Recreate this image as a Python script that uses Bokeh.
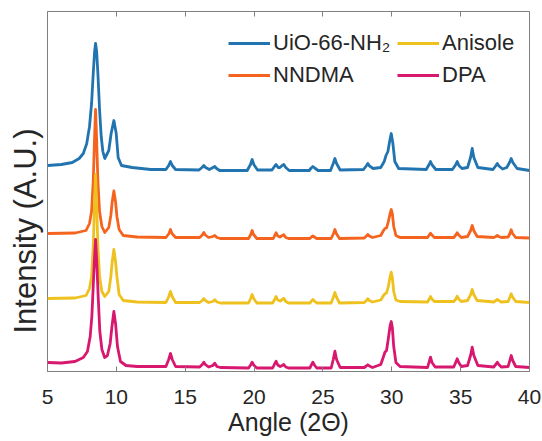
from bokeh.plotting import figure
from bokeh.models import Range1d, LinearAxis, Legend, LegendItem, Title, FixedTicker
from bokeh.embed import file_html
from bokeh.resources import INLINE

# ---------------- data (stacked traces) ----------------
series_names = ["UiO-66-NH\u2082", "NNDMA", "Anisole", "DPA"]
series_colors = ["#2174b0", "#f5641e", "#eec11f", "#d8176f"]
x_ticks = [5, 10, 15, 20, 25, 30, 35, 40]

uio_angle = [5.0, 6.0, 6.8, 7.3, 7.6, 7.85, 8.05, 8.2, 8.33, 8.42, 8.49, 8.57, 8.67, 8.78, 8.9,
             9.02, 9.16, 9.45, 9.62,
             9.82, 9.99, 10.13, 10.37, 11.15, 12.5, 13.6, 13.8, 13.93, 14.06, 14.3, 16.0, 16.22,
             16.35, 16.48, 16.75, 17.02, 17.15, 17.28, 17.5, 19.5, 19.74, 19.86, 19.98, 20.25,
             21.3, 21.48, 21.6, 21.75, 21.88, 22.04, 22.16, 22.3, 22.55, 24.0, 24.15, 24.27, 24.4,
             24.65, 25.55, 25.75, 25.87, 25.99, 26.25, 27.95, 28.14, 28.26, 28.38, 28.65, 29.2,
             29.45, 29.58, 29.72, 29.84, 29.96, 30.08, 30.22, 30.5, 32.5, 32.69, 32.81, 32.93,
             33.2, 34.4, 34.63, 34.75, 34.87, 35.1, 35.5, 35.72, 35.84, 35.96, 36.25, 37.35,
             37.54, 37.66, 37.78, 38.05, 38.35, 38.55, 38.67, 38.79, 39.1, 40.0]
uio_int = [206, 207, 209, 213, 218, 228, 245, 268, 300, 320, 328, 320, 295, 262, 235,
           220, 213, 221, 238,
           251, 238, 214, 206, 204, 202, 202, 206, 210, 206, 202, 201.5, 204,
           206, 204, 202, 204, 205, 203, 201, 201, 207, 212, 207, 201.5,
           201.5, 205, 207, 204, 204, 206, 207, 204, 201, 201, 203.5, 205, 203.5,
           201, 201, 208, 213, 208, 201.5, 202, 205.5, 208, 205.5, 203, 204,
           210, 216, 220, 230, 238, 228, 210, 203, 202, 206.5, 210, 206.5,
           202, 202, 206.5, 210, 206, 203, 204, 214, 223, 214, 204, 202,
           205.5, 208, 205.5, 202.5, 204, 209, 213, 209, 203, 201]

nndma_angle = [5.0, 7.0, 7.8, 8.05, 8.2, 8.32, 8.42, 8.49, 8.56, 8.66, 8.78, 8.95, 9.16, 9.45, 9.6,
               9.7, 9.82, 9.94, 10.04, 10.2, 10.5, 11.5, 13.6, 13.82, 13.93, 14.04, 14.3, 16.05,
               16.24, 16.35, 16.46, 16.7, 17.0, 17.15, 17.3, 17.55, 19.6, 19.76, 19.86, 19.96,
               20.2, 21.4, 21.5, 21.6, 21.72, 21.88, 22.05, 22.16, 22.3, 22.5, 24.05, 24.17,
               24.27, 24.38, 24.55, 25.6, 25.77, 25.87, 25.97, 26.2, 28.0, 28.16, 28.26, 28.37,
               28.6, 29.2, 29.4, 29.5, 29.62, 29.75, 29.88, 29.96, 30.04, 30.14, 30.3, 30.6,
               32.6, 32.72, 32.81, 32.91, 33.1, 34.5, 34.65, 34.75, 34.86, 35.05, 35.5, 35.73,
               35.84, 35.95, 36.2, 37.4, 37.56, 37.66, 37.77, 37.95, 38.45, 38.58, 38.67, 38.77,
               39.0, 40.0]
nndma_int = [138, 138.5, 141, 148, 160, 190, 235, 262, 235, 190, 160, 145, 139, 144, 156,
             170, 180.5, 170, 155, 142, 136, 134.5, 134, 138, 142, 138, 134, 134,
             136.5, 139, 136.5, 134, 135, 136, 134, 133, 133, 137, 141, 137,
             133, 133, 136, 138.7, 135.5, 134.5, 136, 136.7, 134, 133, 133, 134.5,
             135.5, 134.5, 133, 133, 138, 142, 138, 133, 133.5, 135.5, 137, 135.5,
             134, 136, 141, 143, 143.5, 150, 158, 162, 158, 145, 136, 134,
             134, 136.5, 138.3, 136.5, 134, 134, 136.5, 138.7, 136.5, 134, 135, 141,
             146, 141, 135, 134, 135, 136, 135, 134, 134.5, 138, 141.7, 138,
             134, 133.5]

anisole_angle = [5.0, 7.0, 7.8, 8.05, 8.2, 8.32, 8.42, 8.49, 8.56, 8.66, 8.78, 8.95, 9.16, 9.45,
                 9.6, 9.7, 9.82, 9.94, 10.04, 10.2, 10.5, 11.5, 13.6, 13.81, 13.93, 14.05, 14.3,
                 16.05, 16.24, 16.35, 16.46, 16.7, 17.0, 17.15, 17.3, 17.55, 19.6, 19.75, 19.86,
                 19.97, 20.2, 21.35, 21.49, 21.6, 21.72, 21.9, 22.05, 22.16, 22.3, 22.5, 24.05,
                 24.17, 24.27, 24.38, 24.55, 25.6, 25.76, 25.87, 25.98, 26.2, 28.0, 28.16, 28.26,
                 28.37, 28.6, 29.2, 29.4, 29.5, 29.62, 29.75, 29.88, 29.96, 30.04, 30.14, 30.3,
                 30.6, 32.6, 32.72, 32.81, 32.91, 33.1, 34.5, 34.65, 34.75, 34.86, 35.05, 35.5,
                 35.73, 35.84, 35.95, 36.2, 37.4, 37.56, 37.66, 37.77, 37.95, 38.45, 38.58, 38.67,
                 38.77, 39.0, 40.0]
anisole_int = [73, 73.5, 76, 83, 95, 125, 170, 197, 170, 125, 95, 80, 75, 80,
               95, 110, 122, 110, 95, 77, 71, 69.5, 69, 75, 80, 75, 69,
               69, 71, 73, 71, 69, 70, 71.7, 69.5, 68.5, 68.5, 73, 77,
               73, 68.5, 68.5, 72, 75, 71.5, 70.5, 72, 73.3, 70, 68.5, 68.5,
               70.5, 72, 70.5, 68.5, 68.5, 74.5, 79, 74.5, 68.5, 69, 71, 72.7,
               71, 69.5, 71.5, 76, 77.7, 78.5, 85, 95, 99.3, 94, 80, 71.5,
               70, 69.5, 72.5, 75, 72.5, 70, 70, 72.5, 75.3, 72.5, 70, 71,
               77, 82, 77, 71, 69.5, 71, 72, 71, 69.5, 70, 74.5, 77.7,
               74.5, 70, 69]

dpa_angle = [5.0, 6.0, 7.0, 7.6, 7.9, 8.1, 8.22, 8.32, 8.42, 8.49, 8.57, 8.68, 8.8, 8.95, 9.15,
             9.35, 9.55, 9.68, 9.82, 9.95, 10.08, 10.3, 10.7, 11.5, 13.6, 13.8, 13.93, 14.06,
             14.3, 16.05, 16.24, 16.35, 16.46, 16.7, 17.0, 17.15, 17.3, 17.55, 19.6, 19.75,
             19.86, 19.97, 20.2, 21.35, 21.49, 21.6, 21.72, 21.9, 22.05, 22.16, 22.3, 22.5,
             24.05, 24.16, 24.27, 24.38, 24.55, 25.6, 25.75, 25.87, 25.99, 26.25, 28.0, 28.15,
             28.26, 28.37, 28.6, 29.2, 29.4, 29.5, 29.62, 29.75, 29.88, 29.96, 30.04, 30.14,
             30.3, 30.6, 32.6, 32.7, 32.81, 32.92, 33.15, 34.5, 34.64, 34.75, 34.86, 35.05,
             35.5, 35.72, 35.84, 35.96, 36.25, 37.4, 37.55, 37.66, 37.77, 37.95, 38.45, 38.57,
             38.67, 38.78, 39.0, 40.0]
dpa_int = [9, 8.5, 10, 14, 20, 35, 55, 85, 115, 132, 112, 75, 40, 22, 14,
           16, 28, 45, 60, 47, 25, 10, 6, 5, 5, 12, 18, 12,
           5, 4.5, 7, 9.3, 7, 4.5, 6, 8.3, 5, 4, 3.5, 6.5,
           9.3, 6.5, 3.5, 3.5, 7.5, 10.3, 6.5, 5, 6, 7, 4.5, 3.5,
           3.5, 6.5, 9.3, 6.5, 3.5, 3.5, 12, 20.3, 12, 4, 4, 5.5,
           6.7, 5.5, 4, 7, 15, 19.3, 21, 33, 46, 50, 44, 25,
           9, 5, 4, 9, 14.3, 9, 4.5, 4.5, 9, 12.7, 9, 5,
           6, 16, 24.3, 16, 6, 4.5, 7, 9.3, 7, 4.5, 5, 11,
           16, 11, 5, 4]

series_angles = [uio_angle, nndma_angle, anisole_angle, dpa_angle]
series_values = [uio_int, nndma_int, anisole_int, dpa_int]

# ---------------- figure ----------------
FONT = "Liberation Sans"
TXT = "#262626"
AX = "#808080"

p = figure(frame_width=482, frame_height=360,
           min_border_left=47, min_border_right=13, min_border_top=11, min_border_bottom=70,
           x_range=Range1d(5, 40), y_range=Range1d(0, 360),
           output_backend="svg", toolbar_location=None, tools="")
p.background_fill_color = "white"
p.border_fill_color = "white"
p.grid.visible = False
p.outline_line_color = AX
p.outline_line_width = 1

renderers = []
for ang, val, col in zip(series_angles, series_values, series_colors):
    r = p.line(ang, val, line_color=col, line_width=2.8, line_join="round")
    renderers.append(r)

# bottom axis
xa = p.xaxis[0]
xa.ticker = FixedTicker(ticks=x_ticks)
xa.minor_tick_line_color = None
xa.major_tick_in = 5
xa.major_tick_out = 0
xa.axis_line_color = AX
xa.major_tick_line_color = AX
xa.major_label_text_font = FONT
xa.major_label_text_font_size = "21px"
xa.major_label_text_color = TXT
xa.major_label_standoff = 18
xa.axis_label = "Angle (2\u0398)"
xa.axis_label_text_font = FONT
xa.axis_label_text_font_size = "25px"
xa.axis_label_text_font_style = "normal"
xa.axis_label_text_color = TXT
xa.axis_label_standoff = 1

# top axis: mirrored ticks drawn as minor ticks (no labels)
top = LinearAxis(ticker=FixedTicker(ticks=[], minor_ticks=x_ticks),
                 minor_tick_in=5, minor_tick_out=0, minor_tick_line_color=AX,
                 major_tick_line_color=None, axis_line_color=AX)
p.add_layout(top, "above")

# left side: the frame outline draws the line; no y axis needed
p.yaxis.visible = False

ylab = Title(text="Intensity (A.U.)", align="left", offset=38,
             text_font=FONT, text_font_size="31px", text_font_style="normal",
             text_color=TXT, standoff=10)
p.add_layout(ylab, "left")

leg_common = dict(glyph_width=42, glyph_height=22, label_standoff=3, spacing=6,
                  padding=0, margin=0, border_line_color=None, background_fill_alpha=0,
                  label_text_font=FONT, label_text_font_size="22px", label_text_color=TXT)
legend1 = Legend(items=[LegendItem(label=series_names[0], renderers=[renderers[0]]),
                        LegendItem(label=series_names[1], renderers=[renderers[1]])],
                 location=(181, 283), **leg_common)
legend2 = Legend(items=[LegendItem(label=series_names[2], renderers=[renderers[2]]),
                        LegendItem(label=series_names[3], renderers=[renderers[3]])],
                 location=(350, 283), **leg_common)
p.add_layout(legend1)
p.add_layout(legend2)

open("out.html", "w").write(file_html(p, INLINE))
